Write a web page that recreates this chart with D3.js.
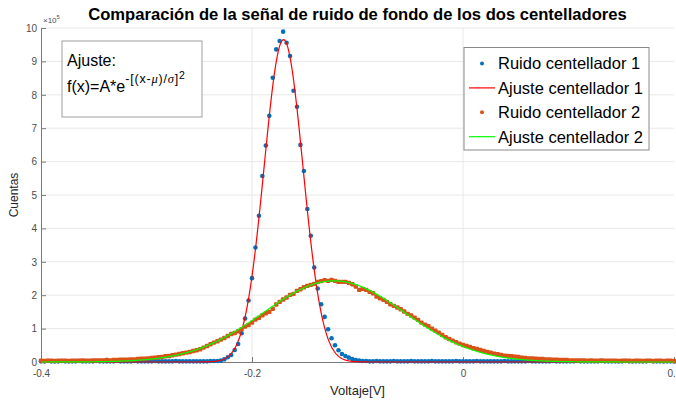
<!DOCTYPE html>
<html>
<head>
<meta charset="utf-8">
<script src="https://d3js.org/d3.v7.min.js"></script>
<style>
  body { margin: 0; background: #fff; }
  svg { display: block; font-family: "Liberation Sans", Arial, sans-serif; }
</style>
</head>
<body>
<div id="chart"></div>
<script>
// histogram bins: first at -0.4 V, last at 0.2 V, evenly spaced
const binRange = [-0.4, 0.2];

// Ruido centellador 1 (x10^5 cuentas per bin)
const ruido1 = [
  0.02,0.02,0.03,0.02,0.02,0.02,0.03,0.02,0.02,0.02,
  0.02,0.03,0.02,0.02,0.02,0.02,0.03,0.02,0.02,0.02,
  0.02,0.02,0.03,0.02,0.02,0.02,0.02,0.03,0.02,0.02,
  0.02,0.02,0.02,0.03,0.02,0.02,0.02,0.02,0.02,0.03,
  0.02,0.02,0.02,0.02,0.02,0.02,0.02,0.02,0.02,0.03,
  0.03,0.03,0.04,0.08,0.14,0.21,0.36,0.54,0.86,1.30,
  1.84,2.51,3.43,4.38,5.57,6.48,7.37,8.51,9.36,9.61,
  9.89,9.56,9.16,8.12,7.64,6.50,5.72,4.58,3.78,2.83,
  2.20,1.73,1.35,0.98,0.71,0.50,0.35,0.24,0.18,0.13,
  0.09,0.06,0.04,0.03,0.03,0.02,0.02,0.03,0.02,0.02,
  0.02,0.02,0.03,0.02,0.02,0.02,0.02,0.03,0.02,0.02,
  0.02,0.02,0.02,0.03,0.02,0.02,0.02,0.02,0.02,0.02,
  0.03,0.02,0.02,0.02,0.02,0.02,0.03,0.02,0.02,0.02,
  0.02,0.02,0.02,0.02,0.03,0.02,0.02,0.02,0.02,0.02,
  0.02,0.03,0.02,0.02,0.02,0.02,0.02,0.02,0.03,0.02,
  0.02,0.02,0.02,0.02,0.02,0.03,0.02,0.02,0.02,0.02,
  0.02,0.02,0.03,0.02,0.02,0.02,0.02,0.02,0.02,0.03,
  0.02,0.02,0.02,0.02,0.02,0.02,0.03,0.02,0.02,0.02,
  0.02,0.02,0.02,0.02
];

// Ruido centellador 2
const ruido2 = [
  0.04,0.03,0.04,0.04,0.03,0.04,0.04,0.04,0.03,0.04,
  0.04,0.04,0.05,0.04,0.04,0.05,0.05,0.05,0.05,0.06,
  0.05,0.06,0.06,0.07,0.07,0.07,0.08,0.08,0.09,0.10,
  0.10,0.11,0.12,0.13,0.14,0.15,0.17,0.18,0.20,0.22,
  0.24,0.26,0.28,0.30,0.33,0.35,0.38,0.43,0.48,0.53,
  0.58,0.62,0.67,0.72,0.78,0.84,0.87,0.92,0.98,1.06,
  1.11,1.18,1.27,1.32,1.40,1.46,1.50,1.59,1.72,1.80,
  1.87,1.93,2.01,2.04,2.13,2.18,2.24,2.28,2.31,2.34,
  2.40,2.42,2.45,2.43,2.46,2.43,2.40,2.40,2.40,2.37,
  2.33,2.26,2.16,2.19,2.16,2.10,2.06,1.96,1.91,1.86,
  1.80,1.73,1.68,1.63,1.58,1.51,1.44,1.39,1.33,1.26,
  1.18,1.12,1.07,1.00,0.94,0.88,0.81,0.74,0.69,0.64,
  0.59,0.55,0.51,0.48,0.45,0.41,0.39,0.36,0.33,0.30,
  0.28,0.25,0.23,0.21,0.19,0.18,0.17,0.16,0.15,0.13,
  0.12,0.11,0.11,0.10,0.09,0.09,0.08,0.08,0.07,0.07,
  0.06,0.06,0.06,0.05,0.05,0.05,0.05,0.05,0.04,0.05,
  0.04,0.04,0.05,0.04,0.04,0.04,0.04,0.03,0.04,0.04,
  0.04,0.03,0.04,0.04,0.03,0.04,0.04,0.03,0.04,0.04,
  0.03,0.04,0.04,0.03
];

// fitted parameters, f(x)=A*e^-[(x-mu)/sigma]^2
const ajuste1 = { A: 9.65, mu: -0.1701, sigma: 0.026 };
const ajuste2 = { A: 2.43, mu: -0.1222, sigma: 0.095 };

const xTicks = [-0.4, -0.2, 0, 0.2];
const xTickLabels = ["-0.4", "-0.2", "0", "0.2"];
const yTicks = [0, 1, 2, 3, 4, 5, 6, 7, 8, 9, 10];
const legendLabels = ["Ruido centellador 1", "Ajuste centellador 1", "Ruido centellador 2", "Ajuste centellador 2"];

const azul = "#0072bd";
const naranja = "#d95319";
const rojo = "#ff0000";
const verde = "#00ff00";

const W = 676, H = 400;
const margin = { top: 28, right: 2, bottom: 38, left: 41 };
const width = W - margin.left - margin.right;
const height = H - margin.top - margin.bottom;

const svg = d3.select("#chart")
  .append("svg")
  .attr("width", W)
  .attr("height", H);

const g = svg.append("g")
  .attr("transform", `translate(${margin.left},${margin.top})`);

const x = d3.scaleLinear().domain([-0.4, 0.2]).range([0, width]);
const y = d3.scaleLinear().domain([0, 10]).range([height, 0]);
const bin = d3.scaleLinear().domain([0, ruido1.length - 1]).range(binRange);

// grid
g.append("g").selectAll("line")
  .data(yTicks.slice(1))
  .join("line")
  .attr("x1", 0).attr("x2", width)
  .attr("y1", d => y(d)).attr("y2", d => y(d))
  .attr("stroke", "#e8e8e8");
g.append("g").selectAll("line")
  .data(xTicks.slice(1, -1))
  .join("line")
  .attr("x1", d => x(d)).attr("x2", d => x(d))
  .attr("y1", 0).attr("y2", height)
  .attr("stroke", "#e8e8e8");

// axes, ticks pointing inward like matlab
const xAxis = g.append("g")
  .attr("transform", `translate(0,${height})`)
  .call(d3.axisBottom(x).tickValues(xTicks).tickFormat((d, i) => xTickLabels[i])
    .tickSizeInner(-5).tickSizeOuter(0).tickPadding(8));
const yAxis = g.append("g")
  .call(d3.axisLeft(y).tickValues(yTicks).tickSizeInner(-5).tickSizeOuter(0).tickPadding(4));

[xAxis, yAxis].forEach(a => {
  a.select(".domain").attr("stroke", "#7a7a7a");
  a.selectAll(".tick line").attr("stroke", "#7a7a7a");
  a.selectAll(".tick text")
    .attr("fill", "#4d4d4d")
    .style("font-size", "10px")
    .style("font-family", "'Liberation Sans', Arial, sans-serif");
});

// exponent
const expo = svg.append("text")
  .attr("x", margin.left + 2)
  .attr("y", margin.top - 5)
  .attr("fill", "#4d4d4d")
  .style("font-size", "8px");
expo.append("tspan").text("\u00d710");
expo.append("tspan").attr("dy", -4).style("font-size", "6px").text("5");

// fit curves
const fitLine = p => d3.line()
  .x(d => x(d))
  .y(d => y(p.A * Math.exp(-Math.pow((d - p.mu) / p.sigma, 2))));
const xs = d3.range(-0.4, 0.2005, 0.0005);

// draw in legend order
g.append("g").selectAll("circle")
  .data(ruido1)
  .join("circle")
  .attr("cx", (d, i) => x(bin(i)))
  .attr("cy", d => y(d))
  .attr("r", 2.3)
  .attr("fill", azul);

g.append("path")
  .datum(xs)
  .attr("d", fitLine(ajuste1))
  .attr("fill", "none")
  .attr("stroke", rojo)
  .attr("stroke-width", 1.2);

g.append("g").selectAll("rect")
  .data(ruido2)
  .join("rect")
  .attr("x", (d, i) => x(bin(i)) - 2.2)
  .attr("y", d => y(d) - 2.2)
  .attr("width", 4.4)
  .attr("height", 4.4)
  .attr("rx", 1)
  .attr("fill", naranja);

g.append("path")
  .datum(xs)
  .attr("d", fitLine(ajuste2))
  .attr("fill", "none")
  .attr("stroke", verde)
  .attr("stroke-width", 1.2);

// title + axis labels
svg.append("text")
  .attr("x", margin.left + width / 2)
  .attr("y", 20)
  .attr("text-anchor", "middle")
  .style("font-size", "16.6px")
  .style("font-weight", "bold")
  .text("Comparación de la señal de ruido de fondo de los dos centelladores");

svg.append("text")
  .attr("x", margin.left + width / 2)
  .attr("y", 395)
  .attr("text-anchor", "middle")
  .attr("fill", "#262626")
  .style("font-size", "13px")
  .text("Voltaje[V]");

svg.append("text")
  .attr("transform", `translate(18,${margin.top + height / 2}) rotate(-90)`)
  .attr("text-anchor", "middle")
  .attr("fill", "#262626")
  .style("font-size", "12px")
  .text("Cuentas");

// annotation box
const note = svg.append("g");
note.append("rect")
  .attr("x", 62).attr("y", 41)
  .attr("width", 140).attr("height", 76)
  .attr("fill", "#fff")
  .attr("stroke", "#a0a0a0");
note.append("text")
  .attr("x", 67).attr("y", 66)
  .style("font-size", "16px")
  .text("Ajuste:");
const formula = note.append("text")
  .attr("x", 67).attr("y", 92)
  .style("font-size", "16px");
formula.append("tspan").text("f(x)=A*e");
const sup = { "font-size": "12.5px", "letter-spacing": "0.8px" };
const supSpan = (txt, it) => {
  const t = formula.append("tspan").text(txt)
    .style("font-size", sup["font-size"]).style("letter-spacing", sup["letter-spacing"]);
  if (it) t.style("font-style", "italic").style("font-family", "'Liberation Serif', serif");
  return t;
};
supSpan("-[(x-").attr("dy", -9);
supSpan("\u03bc", true);
supSpan(")/");
supSpan("\u03c3", true);
supSpan("]");
formula.append("tspan").attr("dy", -4).style("font-size", "10.5px").text("2");

// legend
const leg = svg.append("g");
leg.append("rect")
  .attr("x", 464).attr("y", 47.5)
  .attr("width", 185).attr("height", 102.5)
  .attr("fill", "#fff")
  .attr("stroke", "#8a8a8a");
const rows = leg.selectAll("g.row")
  .data(legendLabels)
  .join("g")
  .attr("class", "row")
  .attr("transform", (d, i) => `translate(0,${63.5 + i * 24.4})`);
rows.each(function (d, i) {
  const r = d3.select(this);
  if (i % 2 === 0) {
    r.append("circle").attr("cx", 482).attr("cy", 0).attr("r", 2)
      .attr("fill", i === 0 ? azul : naranja);
  } else {
    r.append("line").attr("x1", 469).attr("x2", 495).attr("y1", 0).attr("y2", 0)
      .attr("stroke", i === 1 ? rojo : verde).attr("stroke-width", 1.2);
  }
  r.append("text")
    .attr("x", 498)
    .attr("dy", "0.36em")
    .style("font-size", "16.5px")
    .text(d);
});
</script>
</body>
</html>
